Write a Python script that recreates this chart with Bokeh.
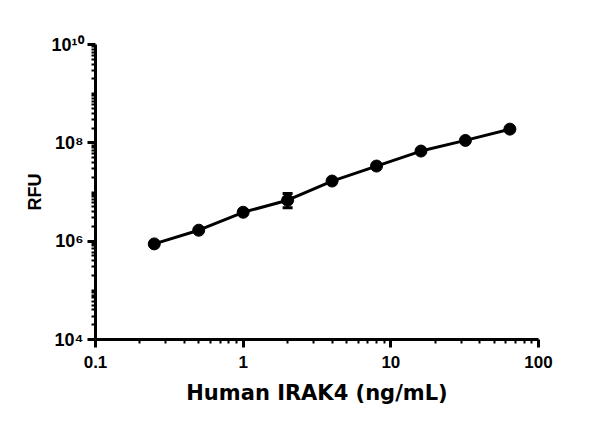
from bokeh.plotting import figure
from bokeh.models import FixedTicker, ColumnDataSource, Whisker, TeeHead
from bokeh.embed import file_html
from bokeh.resources import INLINE

conc = [0.25, 0.5, 1, 2, 4, 8, 16, 32, 64]
rfu = [8.8e5, 1.67e6, 3.87e6, 6.8e6, 1.67e7, 3.37e7, 6.8e7, 1.12e8, 1.9e8]
err_x = [2]
err_lo = [4.8e6]
err_hi = [9.3e6]

x_major = [0.1, 1, 10, 100]
x_labels = ["0.1", "1", "10", "100"]
y_major = [1e4, 1e6, 1e8, 1e10]
y_labels = ["10\u2074", "10\u2076", "10\u2078", "10\u00b9\u2070"]

p = figure(width=584, height=412, x_axis_type="log", y_axis_type="log",
           x_range=(0.1, 100), y_range=(1e4, 1e10),
           output_backend="svg", toolbar_location=None,
           min_border_left=95, min_border_right=46, min_border_top=44, min_border_bottom=73)
p.outline_line_color = None
p.grid.visible = False

xminor = [m * 10.0 ** k for k in (-1, 0, 1) for m in range(2, 10)]
yminor = [m * 10.0 ** k for k in range(4, 10) for m in range(1, 10) if not (m == 1 and k % 2 == 0)]
p.xaxis.ticker = FixedTicker(ticks=x_major, minor_ticks=xminor)
p.yaxis.ticker = FixedTicker(ticks=y_major, minor_ticks=yminor)
p.xaxis.major_label_overrides = {v: s for v, s in zip(x_major, x_labels)}
p.yaxis.major_label_overrides = {v: s for v, s in zip(y_major, y_labels)}

for ax in (p.xaxis, p.yaxis):
    ax.axis_line_width = 3
    ax.axis_line_color = "black"
    ax.major_tick_line_width = 3
    ax.minor_tick_line_width = 2
    ax.major_tick_line_color = "black"
    ax.minor_tick_line_color = "black"
    ax.major_tick_out = 8
    ax.major_tick_in = 0
    ax.minor_tick_out = 4
    ax.minor_tick_in = 0
    ax.major_label_text_font = "Liberation Sans"
    ax.major_label_text_font_style = "bold"
    ax.major_label_text_font_size = "17px"
    ax.major_label_text_color = "black"
    ax.axis_label_text_color = "black"
    ax.axis_label_text_font_style = "bold"

p.yaxis.major_label_text_font_size = "18px"
p.xaxis.axis_label = "Human IRAK4 (ng/mL)"
p.xaxis.axis_label_text_font = "DejaVu Sans"
p.xaxis.axis_label_text_font_size = "21px"
p.xaxis.major_label_standoff = 8
p.xaxis.axis_label_standoff = 10
p.yaxis.axis_label = "RFU"
p.yaxis.axis_label_text_font = "Liberation Sans"
p.yaxis.axis_label_text_font_size = "18px"
p.yaxis.major_label_standoff = 4
p.yaxis.axis_label_standoff = 3

src = ColumnDataSource(dict(x=conc, y=rfu))
p.line("x", "y", source=src, line_width=3, color="black")
esrc = ColumnDataSource(dict(x=err_x, lo=err_lo, hi=err_hi))
p.add_layout(Whisker(source=esrc, base="x", lower="lo", upper="hi", line_width=3, line_color="black",
                     upper_head=TeeHead(size=10, line_width=3, line_color="black"),
                     lower_head=TeeHead(size=10, line_width=3, line_color="black")))
p.scatter("x", "y", source=src, size=12, color="black")

open("out.html", "w").write(file_html(p, INLINE))
